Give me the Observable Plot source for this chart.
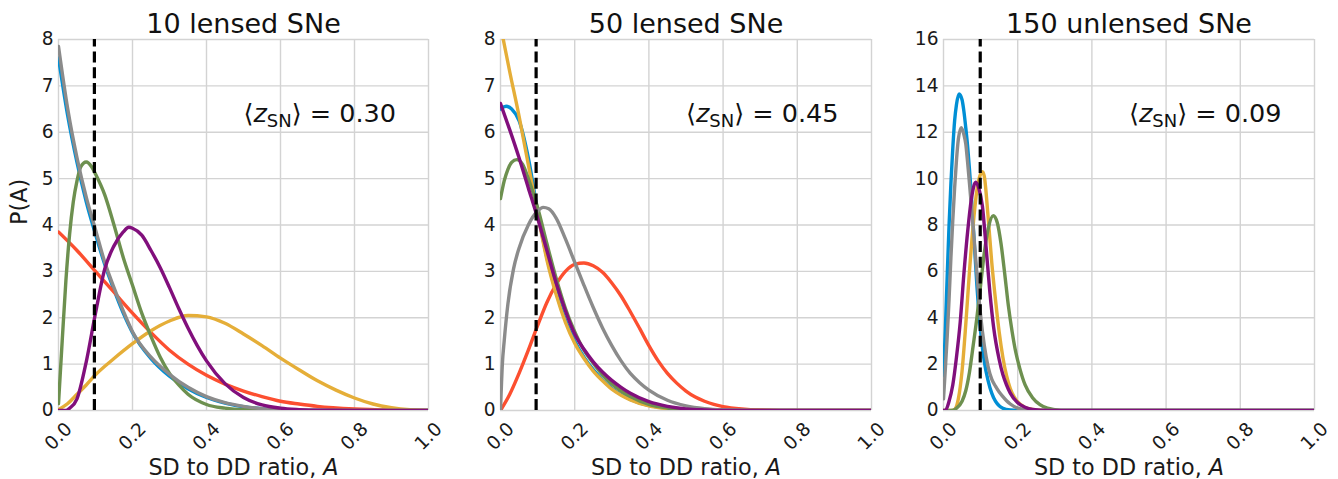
<!DOCTYPE html>
<html><head><meta charset="utf-8">
<script src="https://cdn.jsdelivr.net/npm/d3@7"></script>
<script src="https://cdn.jsdelivr.net/npm/@observablehq/plot@0.6"></script>
<style>
body{margin:0;background:#fff;}
#wrap{position:relative;width:1338px;height:479px;overflow:hidden;}
#wrap svg{position:absolute;top:0;background:#fff;}
</style></head><body><div id="wrap"></div>
<script>
// ---------- data ----------
const panelTitles = ["10 lensed SNe", "50 lensed SNe", "150 unlensed SNe"];
const zValues = ["0.30", "0.45", "0.09"];
const xTicks = [0, 0.2, 0.4, 0.6, 0.8, 1.0];
const yTicksA = [0, 1, 2, 3, 4, 5, 6, 7, 8];
const yTicksB = [0, 2, 4, 6, 8, 10, 12, 14, 16];
const seriesNames = ["blue", "red", "yellow", "green", "gray", "purple"];
const seriesColors = ["#008fd5", "#fc4f30", "#e5ae38", "#6d904f", "#8b8b8b", "#810f7c"];
const dashedX = [0.097, 0.096, 0.099];
const annotY = [6.22, 6.22, 12.44];

// panel 1: 10 lensed SNe  ([A, P(A)])
const p1Blue = [[0,7.6],[0.025,6.35],[0.05,5.35],[0.075,4.5],[0.1,3.8],[0.125,3.15],[0.15,2.6],[0.175,2.1],[0.2,1.68],[0.25,1.12],[0.3,0.74],[0.35,0.47],[0.4,0.28],[0.45,0.16],[0.5,0.08],[0.55,0.04],[0.6,0.015],[0.7,0],[1,0]];
const p1Red = [[0,3.85],[0.05,3.45],[0.1,3.0],[0.15,2.55],[0.2,2.1],[0.25,1.68],[0.3,1.3],[0.35,1.0],[0.4,0.76],[0.45,0.57],[0.5,0.42],[0.55,0.3],[0.6,0.2],[0.65,0.14],[0.7,0.09],[0.8,0.035],[0.9,0.01],[1,0]];
const p1Yellow = [[0,0.02],[0.025,0.15],[0.05,0.35],[0.075,0.55],[0.1,0.77],[0.15,1.12],[0.2,1.44],[0.25,1.72],[0.3,1.93],[0.35,2.05],[0.4,2.02],[0.45,1.88],[0.5,1.65],[0.55,1.4],[0.6,1.13],[0.65,0.88],[0.7,0.64],[0.75,0.44],[0.8,0.27],[0.85,0.14],[0.9,0.06],[0.95,0.015],[1,0]];
const p1Green = [[0,0.15],[0.01,1.5],[0.02,2.8],[0.03,3.8],[0.04,4.5],[0.05,4.95],[0.06,5.25],[0.075,5.36],[0.09,5.25],[0.1,5.1],[0.125,4.65],[0.15,4.0],[0.175,3.3],[0.2,2.7],[0.225,2.1],[0.25,1.6],[0.275,1.15],[0.3,0.8],[0.325,0.55],[0.35,0.35],[0.4,0.13],[0.45,0.05],[0.5,0.015],[0.6,0],[1,0]];
const p1Gray = [[0,7.85],[0.025,6.5],[0.05,5.45],[0.075,4.6],[0.1,3.9],[0.125,3.2],[0.15,2.65],[0.175,2.15],[0.2,1.7],[0.25,1.15],[0.3,0.78],[0.35,0.5],[0.4,0.3],[0.45,0.17],[0.5,0.09],[0.55,0.04],[0.6,0.02],[0.7,0.005],[0.8,0],[1,0]];
const p1Purple = [[0,0],[0.02,0],[0.03,0.05],[0.05,0.25],[0.075,1.05],[0.1,2.1],[0.125,3.05],[0.15,3.55],[0.175,3.85],[0.19,3.95],[0.2,3.93],[0.225,3.78],[0.25,3.45],[0.275,3.08],[0.3,2.65],[0.325,2.2],[0.35,1.78],[0.375,1.4],[0.4,1.07],[0.45,0.58],[0.5,0.28],[0.55,0.12],[0.6,0.05],[0.65,0.02],[0.7,0.005],[0.8,0],[1,0]];

// panel 2: 50 lensed SNe
const p2Blue = [[0,6.5],[0.015,6.56],[0.03,6.5],[0.05,6.25],[0.075,5.45],[0.1,4.3],[0.125,3.3],[0.15,2.55],[0.175,1.95],[0.2,1.5],[0.225,1.15],[0.25,0.88],[0.275,0.66],[0.3,0.48],[0.35,0.24],[0.4,0.11],[0.45,0.045],[0.5,0.015],[0.6,0],[1,0]];
const p2Red = [[0,0],[0.025,0.35],[0.05,0.8],[0.075,1.3],[0.1,1.83],[0.125,2.33],[0.15,2.72],[0.175,3.0],[0.2,3.15],[0.225,3.18],[0.25,3.12],[0.275,2.98],[0.3,2.75],[0.325,2.47],[0.35,2.13],[0.375,1.77],[0.4,1.4],[0.425,1.07],[0.45,0.8],[0.475,0.59],[0.5,0.42],[0.525,0.29],[0.55,0.2],[0.575,0.13],[0.6,0.085],[0.65,0.035],[0.7,0.012],[0.8,0],[1,0]];
const p2Yellow = [[0,8.3],[0.025,7.3],[0.05,6.35],[0.075,5.3],[0.1,4.25],[0.125,3.25],[0.15,2.5],[0.175,1.9],[0.2,1.45],[0.225,1.12],[0.25,0.85],[0.275,0.64],[0.3,0.46],[0.325,0.33],[0.35,0.23],[0.4,0.1],[0.45,0.04],[0.5,0.015],[0.6,0],[1,0]];
const p2Green = [[0,4.57],[0.01,4.95],[0.02,5.2],[0.03,5.35],[0.044,5.41],[0.06,5.3],[0.075,5.0],[0.1,4.38],[0.125,3.6],[0.15,2.85],[0.175,2.2],[0.2,1.7],[0.225,1.3],[0.25,1.02],[0.275,0.77],[0.3,0.57],[0.325,0.42],[0.35,0.3],[0.4,0.13],[0.45,0.05],[0.5,0.015],[0.6,0],[1,0]];
const p2Gray = [[0,0],[0.005,1.0],[0.01,1.5],[0.02,2.3],[0.035,3.05],[0.05,3.5],[0.075,4.0],[0.1,4.3],[0.115,4.38],[0.13,4.35],[0.15,4.15],[0.175,3.7],[0.2,3.2],[0.225,2.7],[0.25,2.22],[0.275,1.78],[0.3,1.4],[0.325,1.07],[0.35,0.8],[0.375,0.6],[0.4,0.44],[0.45,0.22],[0.5,0.1],[0.55,0.04],[0.6,0.015],[0.7,0],[1,0]];
const p2Purple = [[0,6.62],[0.025,6.05],[0.05,5.45],[0.075,4.8],[0.1,4.15],[0.125,3.45],[0.15,2.75],[0.175,2.15],[0.2,1.65],[0.225,1.32],[0.25,1.05],[0.275,0.83],[0.3,0.65],[0.325,0.5],[0.35,0.37],[0.4,0.19],[0.45,0.09],[0.5,0.035],[0.55,0.012],[0.6,0],[1,0]];

// panel 3: 150 unlensed SNe (no red curve visible)
const p3Blue = [[0,1.5],[0.005,3.5],[0.01,5.8],[0.015,8.0],[0.02,9.8],[0.025,11.3],[0.03,12.5],[0.035,13.2],[0.042,13.65],[0.05,13.4],[0.055,12.9],[0.06,12.2],[0.065,11.4],[0.07,10.4],[0.075,9.3],[0.08,8.0],[0.085,6.7],[0.09,5.4],[0.095,4.3],[0.1,3.4],[0.11,2.1],[0.12,1.3],[0.13,0.75],[0.14,0.4],[0.15,0.2],[0.16,0.1],[0.18,0.02],[0.2,0],[1,0]];
const p3Red = [];
const p3Yellow = [[0,0],[0.02,0],[0.03,0.05],[0.04,0.5],[0.05,1.7],[0.06,3.7],[0.07,6.0],[0.08,8.0],[0.09,9.5],[0.1,10.2],[0.105,10.3],[0.11,10.1],[0.12,8.4],[0.13,6.4],[0.14,4.8],[0.15,3.4],[0.16,2.3],[0.17,1.5],[0.18,0.95],[0.19,0.6],[0.2,0.37],[0.22,0.13],[0.24,0.05],[0.28,0],[1,0]];
const p3Green = [[0,0],[0.02,0],[0.035,0.1],[0.05,0.4],[0.06,0.85],[0.07,1.65],[0.08,2.8],[0.09,4.0],[0.1,5.4],[0.11,6.8],[0.12,7.8],[0.134,8.4],[0.145,8.1],[0.155,7.2],[0.165,5.9],[0.175,4.5],[0.185,3.4],[0.195,2.5],[0.205,1.85],[0.22,1.1],[0.24,0.55],[0.26,0.25],[0.28,0.1],[0.3,0.04],[0.33,0],[1,0]];
const p3Gray = [[0,0.5],[0.005,1.8],[0.01,3.2],[0.015,4.8],[0.02,6.6],[0.025,8.2],[0.03,9.6],[0.035,10.8],[0.04,11.7],[0.048,12.2],[0.055,11.9],[0.06,11.5],[0.065,10.7],[0.07,9.8],[0.08,7.9],[0.09,5.9],[0.1,4.1],[0.11,2.8],[0.12,1.9],[0.13,1.35],[0.14,1.05],[0.15,0.8],[0.16,0.6],[0.17,0.42],[0.18,0.28],[0.2,0.1],[0.22,0.03],[0.25,0],[1,0]];
const p3Purple = [[0,0],[0.005,0],[0.015,0.4],[0.025,1.1],[0.035,2.3],[0.045,3.8],[0.055,5.9],[0.065,7.7],[0.075,9.1],[0.087,9.85],[0.095,9.6],[0.105,8.8],[0.115,7.0],[0.125,5.1],[0.135,3.6],[0.15,2.2],[0.16,1.55],[0.17,1.1],[0.18,0.75],[0.2,0.33],[0.22,0.14],[0.24,0.05],[0.28,0],[1,0]];

const panelSeries = [
  [p1Blue, p1Red, p1Yellow, p1Green, p1Gray, p1Purple],
  [p2Blue, p2Red, p2Yellow, p2Green, p2Gray, p2Purple],
  [p3Blue, p3Red, p3Yellow, p3Green, p3Gray, p3Purple]
];
const panelYTicks = [yTicksA, yTicksA, yTicksB];

// ---------- layout ----------
const layout = [
  {left: 0,   ml: 58, mr: 18},
  {left: 446, ml: 54, mr: 21},
  {left: 892, ml: 51, mr: 24}
];
const FONT = "DejaVu Sans";
const wrap = document.getElementById("wrap");

panelSeries.forEach((series, i) => {
  const L = layout[i];
  const yT = panelYTicks[i];
  const yMax = yT[yT.length - 1];
  const marks = [
    Plot.ruleX(xTicks, {stroke: "#d3d3d3", strokeWidth: 1.4}),
    Plot.ruleY(yT, {stroke: "#d3d3d3", strokeWidth: 1.4}),
    ...series.map((pts, k) => Plot.line(pts, {
      x: d => d[0], y: d => d[1], stroke: seriesColors[k],
      strokeWidth: 3.4, curve: "monotone-x", clip: true
    })),
    Plot.ruleX([dashedX[i]], {y1: 0, y2: yMax, stroke: "black", strokeWidth: 3.2, strokeDasharray: "11,4.8"}),
    Plot.text(yT, {x: 0, y: d => d, text: d => String(d), textAnchor: "end", dx: -5,
      fontSize: 18.6, fill: "#1a1a1a"}),
    Plot.text(xTicks, {x: d => d, frameAnchor: "bottom", dy: 26, text: d => d.toFixed(1),
      rotate: -45, textAnchor: "middle", lineAnchor: "middle", fontSize: 18.6, fill: "#1a1a1a"}),
    Plot.text([panelTitles[i]], {frameAnchor: "top", dy: -7, lineAnchor: "bottom",
      fontSize: 27, fill: "#111"}),
    Plot.text(["SD to DD ratio, A"], {frameAnchor: "bottom", dy: 64, lineAnchor: "bottom",
      fontSize: 22.3, fill: "#1a1a1a"}),
    Plot.text(["⟨z⟩ = " + zValues[i]], {x: 0.5, y: annotY[i], textAnchor: "start",
      lineAnchor: "bottom", fontSize: 25.5, fill: "#111"})
  ];
  if (i === 0) {
    marks.push(Plot.text(["P(A)"], {frameAnchor: "left", dx: -39, rotate: -90,
      lineAnchor: "middle", fontSize: 22.3, fill: "#1a1a1a"}));
  }
  const svg = Plot.plot({
    width: 446, height: 479,
    marginLeft: L.ml, marginRight: L.mr, marginTop: 39, marginBottom: 69,
    style: {fontFamily: FONT, background: "white", overflow: "visible"},
    x: {domain: [0, 1], axis: null},
    y: {domain: [0, yMax], axis: null},
    marks
  });
  svg.style.left = L.left + "px";
  // rich-text fixes: italic A in x label, math annotation
  svg.querySelectorAll("text").forEach(t => {
    const s = t.textContent;
    if (s === "SD to DD ratio, A") {
      t.textContent = "SD to DD ratio, ";
      const ts = document.createElementNS("http://www.w3.org/2000/svg", "tspan");
      ts.setAttribute("font-style", "italic");
      ts.textContent = "A";
      t.appendChild(ts);
    } else if (s.startsWith("⟨")) {
      const val = s.split("= ")[1];
      t.textContent = "";
      const mk = (txt, attrs) => {
        const ts = document.createElementNS("http://www.w3.org/2000/svg", "tspan");
        for (const k in attrs) ts.setAttribute(k, attrs[k]);
        ts.textContent = txt; t.appendChild(ts);
      };
      mk("⟨", {});
      mk("z", {"font-style": "italic"});
      mk("SN", {"font-size": "18", "dy": "5"});
      mk("⟩ = " + val, {"dy": "-5"});
    }
  });
  wrap.appendChild(svg);
});
</script></body></html>
